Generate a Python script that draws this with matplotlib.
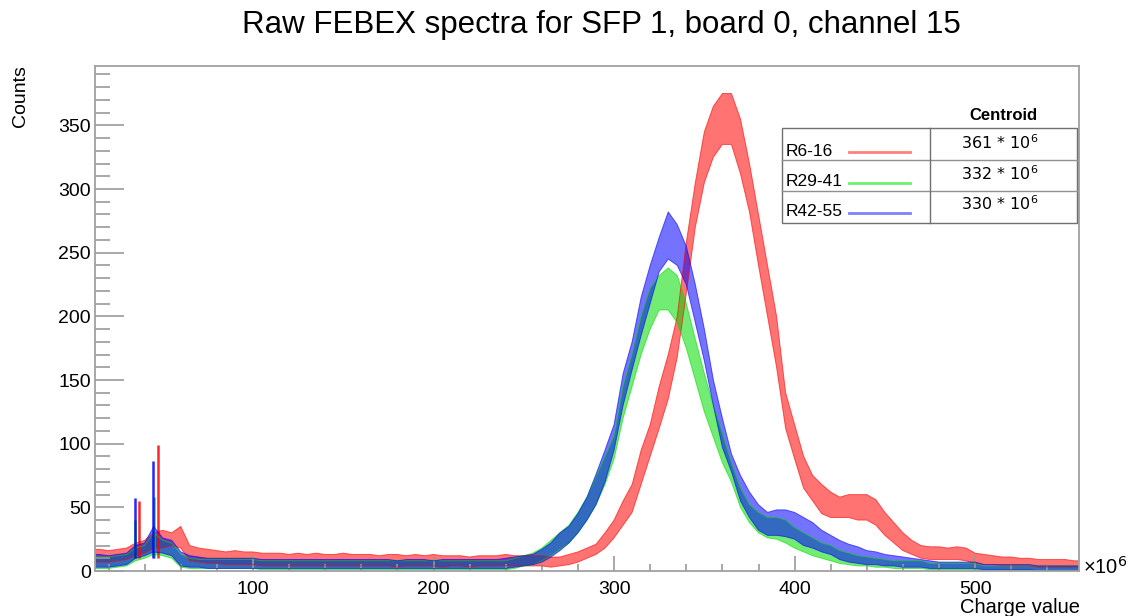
import numpy as np
import matplotlib
matplotlib.use("Agg")
import matplotlib.pyplot as plt
from matplotlib.ticker import MultipleLocator
from matplotlib.patches import Rectangle

plt.rcParams['font.family'] = ['Liberation Sans', 'DejaVu Sans']

# bin edges in units of 1e6 (5 units per bin)
edges = np.arange(12.5, 558, 5)
centres = 0.5 * (edges[:-1] + edges[1:])

# band of each spectrum: lower / upper edge of the noisy trace
red_lo = [7, 7, 8, 9, 12, 14, 18, 18, 20, 18,
          8, 7, 6, 6, 5, 5, 5, 5, 4, 4,
          4, 4, 4, 4, 4, 4, 4, 4, 4, 4,
          4, 4, 4, 3, 4, 4, 4, 4, 3, 4,
          4, 3, 4, 4, 4, 4, 4, 4, 4, 4,
          3, 4, 5, 7, 10, 13, 18, 26, 36, 46,
          68, 90, 112, 135, 168, 218, 270, 305, 325, 335,
          335, 312, 282, 240, 200, 160, 112, 88, 65, 55,
          45, 42, 42, 42, 40, 40, 36, 28, 22, 16,
          13, 10, 9, 9, 9, 9, 8, 6, 5, 5,
          4, 4, 4, 4, 3, 3, 3, 3, 3]
red_hi = [17, 16, 17, 18, 22, 24, 30, 32, 30, 35,
          20, 18, 17, 16, 15, 16, 15, 15, 14, 14,
          14, 13, 14, 13, 14, 13, 13, 14, 13, 13,
          13, 12, 13, 13, 12, 13, 12, 13, 12, 12,
          12, 11, 12, 12, 12, 13, 12, 12, 12, 12,
          11, 11, 13, 15, 18, 21, 30, 40, 55, 68,
          95, 115, 145, 170, 200, 258, 305, 345, 365, 375,
          375, 355, 320, 280, 240, 200, 140, 115, 90, 75,
          68, 62, 58, 60, 60, 60, 56, 46, 38, 30,
          24, 20, 19, 19, 18, 19, 18, 14, 13, 12,
          11, 11, 10, 10, 9, 9, 9, 9, 8]

green_lo = [2, 2, 3, 4, 8, 10, 13, 12, 10, 3,
            2, 2, 2, 2, 2, 2, 2, 2, 1, 1,
            1, 1, 1, 1, 1, 1, 1, 1, 1, 1,
            1, 1, 1, 1, 1, 1, 1, 1, 1, 1,
            1, 1, 1, 1, 1, 1, 2, 4, 5, 8,
            12, 17, 22, 30, 40, 52, 68, 88, 120, 145,
            170, 190, 205, 205, 195, 175, 150, 125, 105, 85,
            70, 50, 38, 30, 26, 25, 22, 18, 15, 12,
            10, 8, 6, 5, 4, 4, 3, 3, 2, 2,
            2, 2, 1, 1, 1, 1, 1, 1, 0, 0,
            0, 0, 0, 0, 0, 0, 0, 0, 0]
green_hi = [11, 11, 12, 13, 18, 20, 30, 24, 22, 13,
            10, 9, 9, 9, 9, 9, 9, 9, 8, 8,
            8, 8, 8, 8, 8, 8, 8, 8, 8, 8,
            8, 8, 8, 8, 8, 8, 8, 8, 8, 8,
            8, 8, 8, 8, 8, 8, 10, 12, 14, 18,
            24, 30, 36, 46, 58, 74, 90, 106, 145, 170,
            200, 222, 232, 238, 232, 210, 182, 155, 130, 108,
            85, 65, 52, 46, 42, 42, 40, 34, 30, 26,
            22, 20, 16, 14, 12, 11, 10, 9, 8, 8,
            8, 8, 6, 6, 6, 6, 6, 6, 4, 4,
            4, 4, 4, 4, 4, 4, 4, 4, 4]

blue_lo = [3, 3, 4, 5, 10, 12, 15, 14, 12, 4,
           3, 3, 2, 2, 2, 2, 2, 2, 2, 2,
           2, 2, 2, 2, 2, 2, 2, 2, 2, 2,
           2, 2, 2, 2, 2, 2, 2, 2, 2, 2,
           2, 2, 2, 2, 2, 2, 3, 4, 5, 7,
           11, 16, 22, 30, 40, 52, 70, 95, 130, 158,
           185, 210, 235, 245, 240, 225, 195, 165, 130, 97,
           78, 55, 42, 32, 28, 28, 27, 25, 20, 18,
           15, 13, 9, 7, 6, 5, 5, 4, 4, 3,
           3, 3, 2, 2, 2, 2, 2, 2, 1, 1,
           1, 1, 1, 1, 0, 0, 0, 0, 0]
blue_hi = [13, 12, 13, 14, 20, 22, 35, 26, 24, 15,
           12, 11, 10, 10, 10, 10, 10, 10, 9, 9,
           9, 9, 9, 9, 9, 9, 9, 9, 9, 9,
           9, 9, 9, 8, 9, 9, 9, 8, 9, 9,
           9, 9, 9, 9, 9, 10, 11, 12, 13, 17,
           22, 30, 35, 45, 58, 76, 95, 115, 155, 180,
           215, 240, 262, 282, 272, 255, 225, 190, 150, 120,
           92, 75, 62, 52, 46, 48, 48, 46, 42, 38,
           32, 28, 24, 21, 19, 16, 15, 13, 12, 11,
           10, 9, 8, 7, 7, 7, 7, 7, 5, 5,
           5, 5, 5, 5, 4, 4, 4, 4, 4]

# narrow peaks at low charge
red_spike_x = [37, 47.5]
red_spike_top = [55, 99]
green_spike_x = [34.5, 45]
green_spike_top = [40, 58]
blue_spike_x = [34.5, 44.5]
blue_spike_top = [57, 86]

labels = ['R6-16', 'R29-41', 'R42-55']
centroids = [361, 332, 330]
colors = ['#ff0000', '#00dd00', '#0000ff']
legend_colors = ['#ff8080', '#70f070', '#8080ff']

W, H = 1129, 616
fig = plt.figure(figsize=(W / 100, H / 100), dpi=100)
ax = fig.add_axes([95 / W, 1 - 571 / H, (1079 - 95) / W, (571 - 65.5) / H])

series = [(red_lo, red_hi, red_spike_x, red_spike_top),
          (green_lo, green_hi, green_spike_x, green_spike_top),
          (blue_lo, blue_hi, blue_spike_x, blue_spike_top)]
xs = np.r_[edges[0], centres, edges[-1]]
for (lo, hi, sx, stop), c in zip(series, colors):
    lo_ext = np.r_[lo[0], lo, lo[-1]]
    hi_ext = np.r_[hi[0], hi, hi[-1]]
    ax.fill_between(xs, lo_ext, hi_ext, facecolor=c, alpha=0.55, lw=0)
    ax.plot(xs, hi_ext, color=c, alpha=0.6, lw=0.7)
    ax.plot(xs, lo_ext, color=c, alpha=0.6, lw=0.7)
    ax.vlines(sx, 10, stop, color=c, lw=1.8, alpha=0.85)

ax.set_xlim(12.5, 557.5)
ax.set_ylim(0, 397)
ax.xaxis.set_major_locator(MultipleLocator(100))
ax.xaxis.set_minor_locator(MultipleLocator(20))
ax.yaxis.set_major_locator(MultipleLocator(50))
ax.yaxis.set_minor_locator(MultipleLocator(10))
ax.tick_params(axis='y', which='major', direction='in', length=21, width=1.2,
               color='#999999', labelsize=14, pad=3)
ax.tick_params(axis='y', which='minor', direction='in', length=11, width=1.2,
               color='#999999')
ax.tick_params(axis='x', which='major', direction='in', length=11, width=1.2,
               color='#999999', labelsize=14, pad=7)
ax.tick_params(axis='x', which='minor', direction='in', length=5, width=1.2,
               color='#999999')
for s in ax.spines.values():
    s.set_color('#a0a0a0')
    s.set_linewidth(1.3)

fig.text(601 / W, 1 - 25 / H, 'Raw FEBEX spectra for SFP 1, board 0, channel 15',
         ha='center', va='center', fontsize=22.5)
fig.text(21 / W, 1 - 65 / H, 'Counts', rotation=90, ha='center', va='top', fontsize=14)
fig.text(1080 / W, 1 - 613 / H, 'Charge value', ha='right', va='baseline', fontsize=14.5)
fig.text(1083 / W, 1 - 567 / H, '×10$^{6}$', ha='left', va='center', fontsize=14.5)

# centroid table drawn in pixel coordinates
lax = fig.add_axes([0, 0, 1, 1])
lax.set_xlim(0, W)
lax.set_ylim(H, 0)
lax.axis('off')
lax.add_patch(Rectangle((782, 128), 295, 95, facecolor='white', edgecolor='#707070', lw=1))
lax.plot([782, 1077], [160, 160], color='#909090', lw=1)
lax.plot([782, 1077], [191, 191], color='#909090', lw=1)
lax.plot([930, 930], [128, 223], color='#707070', lw=1)
lax.text(1003, 115, 'Centroid', ha='center', va='center', fontsize=12, fontweight='bold')
row_y = [151, 182, 212]
for lab, cen, lc, y in zip(labels, centroids, legend_colors, row_y):
    lax.text(786, y, lab, ha='left', va='center', fontsize=12.5)
    lax.plot([849, 910], [y + 1, y + 1], color=lc, lw=2)
    lax.text(1000, y - 8, f'{cen} * 10$^{{6}}$', ha='center', va='center',
             fontsize=11.5, family='DejaVu Sans')

fig.savefig('out.png', dpi=100)
